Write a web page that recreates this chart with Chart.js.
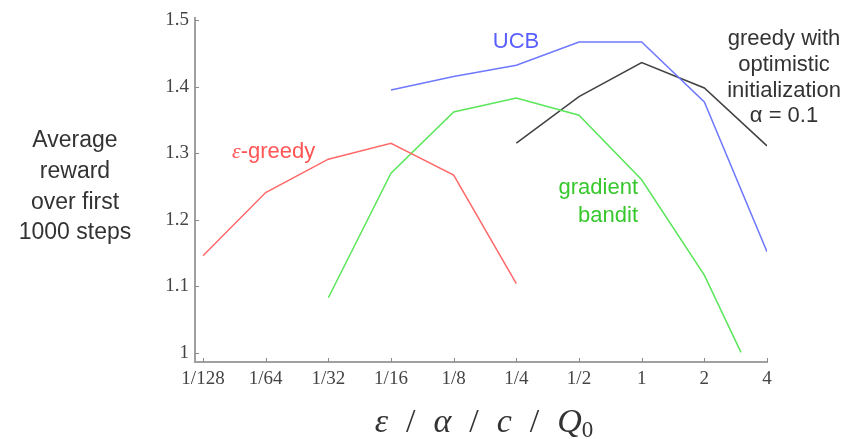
<!DOCTYPE html>
<html><head><meta charset="utf-8">
<script src="https://cdn.jsdelivr.net/npm/chart.js@4/dist/chart.umd.min.js"></script>
<style>html,body{margin:0;padding:0;background:#fff;overflow:hidden}</style>
</head><body>
<canvas id="c" width="849" height="439"></canvas>
<script>
// ---- data ----
const tickValues = [1/128, 1/64, 1/32, 1/16, 1/8, 1/4, 1/2, 1, 2, 4];
const tickLabels = ['1/128', '1/64', '1/32', '1/16', '1/8', '1/4', '1/2', '1', '2', '4'];
const yTickValues = [1, 1.1, 1.2, 1.3, 1.4, 1.5];
const yTickLabels = ['1', '1.1', '1.2', '1.3', '1.4', '1.5'];

const epsParams = [1/128, 1/64, 1/32, 1/16, 1/8, 1/4];
const epsReward = [1.146, 1.241, 1.291, 1.315, 1.267, 1.104];

const ucbParams = [1/16, 1/8, 1/4, 1/2, 1, 2, 4];
const ucbReward = [1.395, 1.415, 1.432, 1.467, 1.467, 1.377, 1.152];

const gradParams = [1/32, 1/16, 1/8, 1/4, 1/2, 1, 2, 3];
const gradReward = [1.083, 1.270, 1.362, 1.383, 1.357, 1.260, 1.117, 1.001];

const optParams = [1/4, 1/2, 1, 2, 4];
const optReward = [1.315, 1.385, 1.436, 1.398, 1.311];

const seriesNames = ['ε-greedy', 'UCB', 'gradient bandit', 'greedy with optimistic initialization α = 0.1'];
const yTitleLines = ['Average', 'reward', 'over first', '1000 steps'];

// ---- build ----
const pts = (xs, ys) => xs.map((x, i) => ({x: x, y: ys[i]}));
const lineStyle = (c) => ({borderColor: c, borderWidth: 1.5, pointRadius: 0, fill: false, tension: 0});

const annot = {
  id: 'annot',
  afterDraw(chart) {
    const ctx = chart.ctx;
    const xs = chart.scales.x, ys = chart.scales.y;
    const area = chart.chartArea;
    ctx.save();
    // inner tick marks
    ctx.strokeStyle = '#8a8a8a';
    ctx.lineWidth = 1;
    yTickValues.forEach(v => {
      const py = Math.round(ys.getPixelForValue(v)) + 0.5;
      ctx.beginPath(); ctx.moveTo(area.left, py); ctx.lineTo(area.left + 4, py); ctx.stroke();
    });
    tickValues.forEach(v => {
      const px = Math.round(xs.getPixelForValue(v)) + 0.5;
      ctx.beginPath(); ctx.moveTo(px, area.bottom); ctx.lineTo(px, area.bottom - 4); ctx.stroke();
    });
    // y title (horizontal, multi-line)
    ctx.fillStyle = '#333';
    ctx.font = '23px "Liberation Sans", Arial, sans-serif';
    ctx.textAlign = 'center'; ctx.textBaseline = 'middle';
    yTitleLines.forEach((t, i) => ctx.fillText(t, 75, 141 + i * 30.7));
    // series labels
    ctx.font = '22px "Liberation Sans", Arial, sans-serif';
    ctx.fillStyle = 'rgb(255,85,85)';
    ctx.textAlign = 'left';
    ctx.font = 'italic 22px "Liberation Serif", serif';
    const epsW = ctx.measureText('ε').width;
    ctx.fillText('ε', 232, 152);
    ctx.font = '22px "Liberation Sans", Arial, sans-serif';
    ctx.fillText('-greedy', 232 + epsW, 152);
    ctx.fillStyle = 'rgb(90,95,255)';
    ctx.textAlign = 'center';
    ctx.fillText(seriesNames[1], 516, 42);
    ctx.fillStyle = 'rgb(55,200,45)';
    ctx.textAlign = 'right';
    const gl = seriesNames[2].split(' ');
    ctx.fillText(gl[0], 638, 188);
    ctx.fillText(gl[1], 638, 216);
    ctx.fillStyle = '#333';
    ctx.textAlign = 'center';
    ['greedy with', 'optimistic', 'initialization', 'α = 0.1'].forEach((t, i) => ctx.fillText(t, 784, 39 + i * 25.8));
    // x title: ε / α / c / Q0
    const parts = [['ε', true], ['/', false], ['α', true], ['/', false], ['c', true], ['/', false], ['Q', true]];
    const fi = 'italic 34px "Liberation Serif", "DejaVu Serif", serif';
    const fu = '34px "Liberation Serif", "DejaVu Serif", serif';
    const fs = '23px "Liberation Serif", "DejaVu Serif", serif';
    const gap = 18;
    let total = 0;
    const widths = parts.map(p => { ctx.font = p[1] ? fi : fu; const w = ctx.measureText(p[0]).width; total += w; return w; });
    ctx.font = fs; const subW = ctx.measureText('0').width;
    total += gap * (parts.length - 1) + subW;
    let x = 484 - total / 2;
    ctx.fillStyle = '#333';
    ctx.textAlign = 'left'; ctx.textBaseline = 'alphabetic';
    parts.forEach((p, i) => {
      ctx.font = p[1] ? fi : fu;
      ctx.fillText(p[0], x, 432);
      x += widths[i] + (i < parts.length - 1 ? gap : 0);
    });
    ctx.font = fs;
    ctx.fillText('0', x, 437);
    ctx.restore();
  }
};

new Chart(document.getElementById('c'), {
  type: 'line',
  data: {
    datasets: [
      Object.assign({label: seriesNames[0], data: pts(epsParams, epsReward)}, lineStyle('rgb(255,105,105)')),
      Object.assign({label: seriesNames[1], data: pts(ucbParams, ucbReward)}, lineStyle('rgb(110,120,255)')),
      Object.assign({label: seriesNames[2], data: pts(gradParams, gradReward)}, lineStyle('rgb(90,230,90)')),
      Object.assign({label: seriesNames[3], data: pts(optParams, optReward)}, lineStyle('rgb(65,65,65)'))
    ]
  },
  options: {
    responsive: false,
    animation: false,
    devicePixelRatio: 1,
    layout: {padding: {top: 18, right: 82, left: 0, bottom: 0}},
    plugins: {legend: {display: false}, tooltip: {enabled: false}, title: {display: false}},
    scales: {
      x: {
        type: 'logarithmic',
        min: Math.pow(2, -7.1277),
        max: 4,
        grid: {display: false, drawTicks: false},
        border: {display: true, color: '#a0a0a0', width: 2},
        afterBuildTicks: (s) => { s.ticks = tickValues.map(v => ({value: v})); },
        afterFit: (s) => { s.height = 77; },
        ticks: {
          autoSkip: false, maxRotation: 0, padding: 6, color: '#444',
          font: {family: '"Liberation Serif", serif', size: 19},
          callback: (v, i) => tickLabels[i]
        }
      },
      y: {
        type: 'linear',
        min: 0.9865,
        max: 1.503,
        grid: {display: false, drawTicks: false},
        border: {display: true, color: '#a0a0a0', width: 2},
        afterBuildTicks: (s) => { s.ticks = yTickValues.map(v => ({value: v})); },
        afterFit: (s) => { s.width = 195; },
        ticks: {
          padding: 6, color: '#444',
          font: {family: '"Liberation Serif", serif', size: 19},
          callback: (v, i) => yTickLabels[i]
        }
      }
    }
  },
  plugins: [annot]
});
</script>
</body></html>
